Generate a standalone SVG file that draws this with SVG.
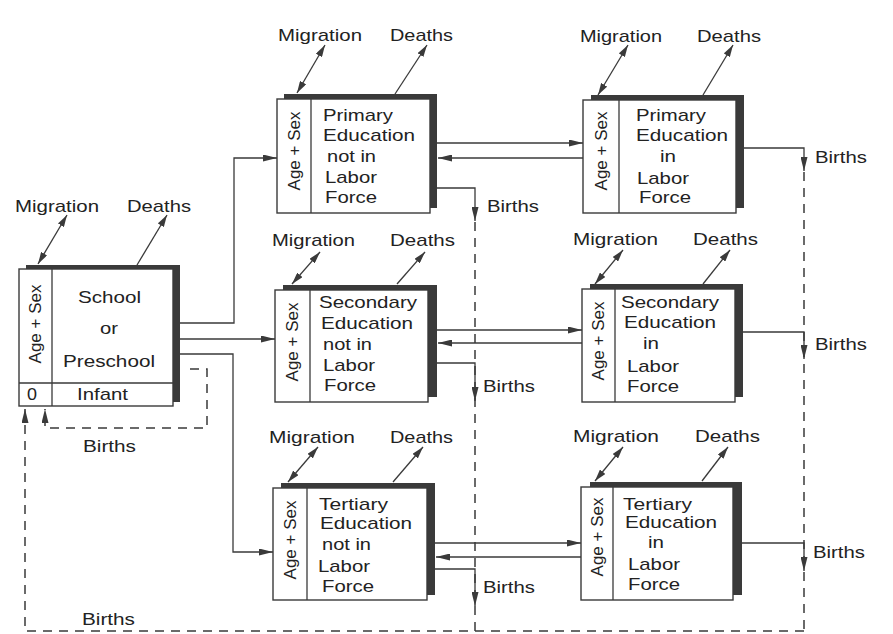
<svg xmlns="http://www.w3.org/2000/svg" width="893" height="634" viewBox="0 0 893 634">
<defs>
<style>
text{font-family:"Liberation Sans",Arial,Helvetica,sans-serif;font-size:17px;fill:#222;}
.box{fill:#fff;stroke:#3a3a3a;stroke-width:1.4;}
.shadow{fill:#3a3a3a;stroke:none;}
.div{stroke:#3a3a3a;stroke-width:1.3;fill:none;}
.conn{fill:none;stroke:#3a3a3a;stroke-width:1.3;}
.dash{fill:none;stroke:#3a3a3a;stroke-width:1.5;stroke-dasharray:9,7;}
.flow{fill:none;stroke:#3a3a3a;stroke-width:1.3;}
</style>
<marker id="ah" viewBox="0 0 14 7" refX="14" refY="3.5" markerWidth="14" markerHeight="7" markerUnits="userSpaceOnUse" orient="auto-start-reverse">
<path d="M0,0 L14,3.5 L0,7 z" fill="#3a3a3a"/>
</marker>
<marker id="sh" viewBox="0 0 12 7" refX="12" refY="3.5" markerWidth="12" markerHeight="7" markerUnits="userSpaceOnUse" orient="auto-start-reverse">
<path d="M0,0 L12,3.5 L0,7 z" fill="#3a3a3a"/>
</marker>
</defs>
<rect width="893" height="634" fill="#fff"/>

<!-- connectors -->
<g id="connectors">
<path class="dash" d="M475,222 V631"/>
<path class="dash" d="M804,172 V631"/>
<path class="dash" d="M804,631 H25 V409" marker-end="url(#ah)"/>
<path class="dash" d="M190,369 H207 V428 H45 V409" marker-end="url(#ah)"/>
<path class="conn" d="M180,323 H234 V158 H277" marker-end="url(#ah)"/>
<path class="conn" d="M180,339 H275" marker-end="url(#ah)"/>
<path class="conn" d="M180,354 H233 V552 H273" marker-end="url(#ah)"/>
<path class="conn" d="M437,143 H583" marker-end="url(#ah)"/>
<path class="conn" d="M583,158 H438" marker-end="url(#ah)"/>
<path class="conn" d="M437,188 H475 V221" marker-end="url(#ah)"/>
<path class="conn" d="M744,148 H804 V171" marker-end="url(#ah)"/>
<path class="conn" d="M437,330 H582" marker-end="url(#ah)"/>
<path class="conn" d="M582,343 H438" marker-end="url(#ah)"/>
<path class="conn" d="M437,363 H475 V401" marker-end="url(#ah)"/>
<path class="conn" d="M743,332 H804 V359" marker-end="url(#ah)"/>
<path class="conn" d="M435,543 H581" marker-end="url(#ah)"/>
<path class="conn" d="M581,557 H436" marker-end="url(#ah)"/>
<path class="conn" d="M435,569 H475 V606" marker-end="url(#ah)"/>
<path class="conn" d="M742,543 H804 V571" marker-end="url(#ah)"/>
<!-- migration / deaths flows -->
<path class="flow" d="M38,264 L67,215" marker-start="url(#sh)" marker-end="url(#sh)"/>
<path class="flow" d="M137,265 L167,215" marker-end="url(#sh)"/>
<path class="flow" d="M297,93 L325,45" marker-start="url(#sh)" marker-end="url(#sh)"/>
<path class="flow" d="M395,94 L427,45" marker-end="url(#sh)"/>
<path class="flow" d="M598,95 L628,45" marker-start="url(#sh)" marker-end="url(#sh)"/>
<path class="flow" d="M703,95 L733,45" marker-end="url(#sh)"/>
<path class="flow" d="M292,284 L320,252" marker-start="url(#sh)" marker-end="url(#sh)"/>
<path class="flow" d="M397,284 L425,252" marker-end="url(#sh)"/>
<path class="flow" d="M595,284 L623,250" marker-start="url(#sh)" marker-end="url(#sh)"/>
<path class="flow" d="M703,284 L730,250" marker-end="url(#sh)"/>
<path class="flow" d="M288,482 L318,447" marker-start="url(#sh)" marker-end="url(#sh)"/>
<path class="flow" d="M393,482 L423,447" marker-end="url(#sh)"/>
<path class="flow" d="M595,481 L623,447" marker-start="url(#sh)" marker-end="url(#sh)"/>
<path class="flow" d="M702,481 L728,447" marker-end="url(#sh)"/>
</g>

<!-- flow labels -->
<g id="labels">
<text x="15" y="212" textLength="84" lengthAdjust="spacingAndGlyphs">Migration</text>
<text x="127" y="212" textLength="64" lengthAdjust="spacingAndGlyphs">Deaths</text>
<text x="278" y="41" textLength="84" lengthAdjust="spacingAndGlyphs">Migration</text>
<text x="390" y="41" textLength="63" lengthAdjust="spacingAndGlyphs">Deaths</text>
<text x="580" y="42" textLength="82" lengthAdjust="spacingAndGlyphs">Migration</text>
<text x="697" y="42" textLength="64" lengthAdjust="spacingAndGlyphs">Deaths</text>
<text x="272" y="246" textLength="83" lengthAdjust="spacingAndGlyphs">Migration</text>
<text x="390" y="246" textLength="65" lengthAdjust="spacingAndGlyphs">Deaths</text>
<text x="573" y="245" textLength="85" lengthAdjust="spacingAndGlyphs">Migration</text>
<text x="693" y="245" textLength="65" lengthAdjust="spacingAndGlyphs">Deaths</text>
<text x="269" y="443" textLength="86" lengthAdjust="spacingAndGlyphs">Migration</text>
<text x="390" y="443" textLength="63" lengthAdjust="spacingAndGlyphs">Deaths</text>
<text x="573" y="442" textLength="86" lengthAdjust="spacingAndGlyphs">Migration</text>
<text x="695" y="442" textLength="65" lengthAdjust="spacingAndGlyphs">Deaths</text>
<text x="487" y="212" textLength="52" lengthAdjust="spacingAndGlyphs">Births</text>
<text x="815" y="163" textLength="52" lengthAdjust="spacingAndGlyphs">Births</text>
<text x="483" y="392" textLength="52" lengthAdjust="spacingAndGlyphs">Births</text>
<text x="815" y="350" textLength="52" lengthAdjust="spacingAndGlyphs">Births</text>
<text x="483" y="593" textLength="52" lengthAdjust="spacingAndGlyphs">Births</text>
<text x="813" y="558" textLength="52" lengthAdjust="spacingAndGlyphs">Births</text>
<text x="83" y="452" textLength="53" lengthAdjust="spacingAndGlyphs">Births</text>
<text x="82" y="625" textLength="53" lengthAdjust="spacingAndGlyphs">Births</text>
</g>

<!-- School or Preschool -->
<g id="school">
<rect class="shadow" x="26" y="265" width="154" height="137"/>
<rect class="box" x="19" y="269" width="154" height="137"/>
<path class="div" d="M52,269 V406 M19,383 H173"/>
<text transform="translate(41,324) rotate(-90)" text-anchor="middle">Age + Sex</text>
<text x="78" y="303" textLength="63" lengthAdjust="spacingAndGlyphs">School</text>
<text x="100" y="334" textLength="18" lengthAdjust="spacingAndGlyphs">or</text>
<text x="63" y="367" textLength="92" lengthAdjust="spacingAndGlyphs">Preschool</text>
<text x="27" y="400" textLength="10" lengthAdjust="spacingAndGlyphs">0</text>
<text x="77" y="400" textLength="51" lengthAdjust="spacingAndGlyphs">Infant</text>
</g>

<!-- Primary not in Labor Force -->
<g id="primary-not-lf">
<rect class="shadow" x="284" y="94" width="153" height="114"/>
<rect class="box" x="277" y="99" width="153" height="114"/>
<path class="div" d="M311,99 V213"/>
<text transform="translate(300,151) rotate(-90)" text-anchor="middle">Age + Sex</text>
<text x="323" y="121" textLength="70" lengthAdjust="spacingAndGlyphs">Primary</text>
<text x="323" y="141" textLength="92" lengthAdjust="spacingAndGlyphs">Education</text>
<text x="327" y="162" textLength="49" lengthAdjust="spacingAndGlyphs">not in</text>
<text x="325" y="183" textLength="52" lengthAdjust="spacingAndGlyphs">Labor</text>
<text x="325" y="203" textLength="52" lengthAdjust="spacingAndGlyphs">Force</text>
</g>

<!-- Primary in Labor Force -->
<g id="primary-lf">
<rect class="shadow" x="591" y="95" width="153" height="113"/>
<rect class="box" x="583" y="100" width="153" height="113"/>
<path class="div" d="M619,100 V213"/>
<text transform="translate(607,151) rotate(-90)" text-anchor="middle">Age + Sex</text>
<text x="636" y="121" textLength="70" lengthAdjust="spacingAndGlyphs">Primary</text>
<text x="636" y="141" textLength="92" lengthAdjust="spacingAndGlyphs">Education</text>
<text x="660" y="162" textLength="16" lengthAdjust="spacingAndGlyphs">in</text>
<text x="637" y="184" textLength="52" lengthAdjust="spacingAndGlyphs">Labor</text>
<text x="639" y="203" textLength="52" lengthAdjust="spacingAndGlyphs">Force</text>
</g>

<!-- Secondary not in Labor Force -->
<g id="secondary-not-lf">
<rect class="shadow" x="283" y="285" width="154" height="112"/>
<rect class="box" x="275" y="290" width="153" height="112"/>
<path class="div" d="M310,290 V402"/>
<text transform="translate(298,342) rotate(-90)" text-anchor="middle">Age + Sex</text>
<text x="319" y="308" textLength="98" lengthAdjust="spacingAndGlyphs">Secondary</text>
<text x="321" y="329" textLength="92" lengthAdjust="spacingAndGlyphs">Education</text>
<text x="323" y="350" textLength="49" lengthAdjust="spacingAndGlyphs">not in</text>
<text x="323" y="371" textLength="52" lengthAdjust="spacingAndGlyphs">Labor</text>
<text x="324" y="391" textLength="52" lengthAdjust="spacingAndGlyphs">Force</text>
</g>

<!-- Secondary in Labor Force -->
<g id="secondary-lf">
<rect class="shadow" x="590" y="284" width="153" height="113"/>
<rect class="box" x="582" y="289" width="153" height="113"/>
<path class="div" d="M615,289 V402"/>
<text transform="translate(604,341) rotate(-90)" text-anchor="middle">Age + Sex</text>
<text x="621" y="308" textLength="98" lengthAdjust="spacingAndGlyphs">Secondary</text>
<text x="624" y="328" textLength="92" lengthAdjust="spacingAndGlyphs">Education</text>
<text x="643" y="349" textLength="16" lengthAdjust="spacingAndGlyphs">in</text>
<text x="627" y="372" textLength="52" lengthAdjust="spacingAndGlyphs">Labor</text>
<text x="627" y="392" textLength="52" lengthAdjust="spacingAndGlyphs">Force</text>
</g>

<!-- Tertiary not in Labor Force -->
<g id="tertiary-not-lf">
<rect class="shadow" x="281" y="483" width="154" height="112"/>
<rect class="box" x="273" y="488" width="154" height="112"/>
<path class="div" d="M307,488 V600"/>
<text transform="translate(296,540) rotate(-90)" text-anchor="middle">Age + Sex</text>
<text x="319" y="510" textLength="69" lengthAdjust="spacingAndGlyphs">Tertiary</text>
<text x="320" y="529" textLength="92" lengthAdjust="spacingAndGlyphs">Education</text>
<text x="322" y="550" textLength="49" lengthAdjust="spacingAndGlyphs">not in</text>
<text x="318" y="572" textLength="52" lengthAdjust="spacingAndGlyphs">Labor</text>
<text x="322" y="592" textLength="52" lengthAdjust="spacingAndGlyphs">Force</text>
</g>

<!-- Tertiary in Labor Force -->
<g id="tertiary-lf">
<rect class="shadow" x="590" y="482" width="152" height="113"/>
<rect class="box" x="581" y="487" width="152" height="113"/>
<path class="div" d="M613,487 V600"/>
<text transform="translate(603,537) rotate(-90)" text-anchor="middle">Age + Sex</text>
<text x="623" y="510" textLength="69" lengthAdjust="spacingAndGlyphs">Tertiary</text>
<text x="625" y="528" textLength="92" lengthAdjust="spacingAndGlyphs">Education</text>
<text x="648" y="548" textLength="16" lengthAdjust="spacingAndGlyphs">in</text>
<text x="628" y="570" textLength="52" lengthAdjust="spacingAndGlyphs">Labor</text>
<text x="628" y="590" textLength="52" lengthAdjust="spacingAndGlyphs">Force</text>
</g>
</svg>
